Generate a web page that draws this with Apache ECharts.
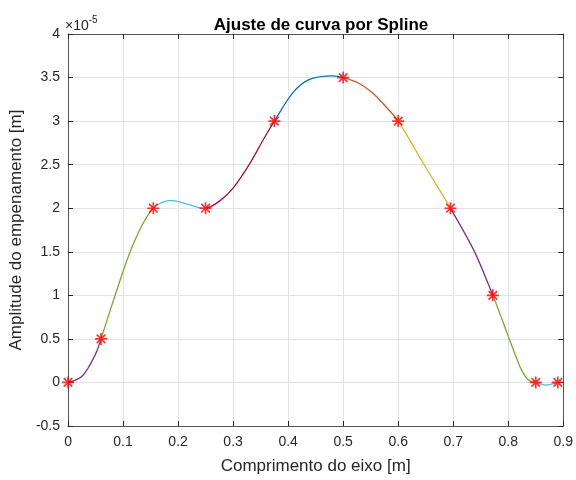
<!DOCTYPE html>
<html lang="pt">
<head>
<meta charset="UTF-8">
<title>Ajuste de curva por Spline</title>
<script src="https://cdn.jsdelivr.net/npm/echarts@6/dist/echarts.min.js"></script>
<style>
  html, body, #main { width: 100%; height: 100%; margin: 0; background: #fff; }
</style>
</head>
<body>
<div id="main"></div>
<script>
// pontos medidos (y em unidades de 1e-5 m)
var knotX = [0, 0.06, 0.155, 0.25, 0.375, 0.5, 0.6, 0.695, 0.772, 0.85, 0.89];
var knotY = [0, 0.5, 2, 2, 3, 3.5, 3, 2, 1, 0, 0];

var curveX = [0, 0.015, 0.027, 0.036, 0.044, 0.053, 0.06, 0.086, 0.111, 0.135, 0.155,
              0.172, 0.188, 0.218, 0.236, 0.25, 0.277, 0.301, 0.332, 0.356, 0.375,
              0.409, 0.439, 0.481, 0.5, 0.527, 0.552, 0.577, 0.6,
              0.648, 0.695, 0.738, 0.772, 0.786, 0.8, 0.812, 0.822, 0.832, 0.84, 0.85,
              0.867, 0.89];
var curveY = [0, 0.03, 0.08, 0.16, 0.25, 0.37, 0.5, 1.01, 1.47, 1.81, 2,
              2.07, 2.09, 2.045, 2.01, 2, 2.09, 2.24, 2.53, 2.8, 3,
              3.33, 3.48, 3.52, 3.5, 3.44, 3.33, 3.17, 3,
              2.49, 2, 1.51, 1, 0.77, 0.53, 0.33, 0.17, 0.06, 0.015, 0,
              -0.03, 0];

// cores de cada trecho (ordem padrão do MATLAB)
var segColors = ['#7E2F8E', '#77AC30', '#4DBEEE', '#A2142F', '#0072BD',
                 '#D95319', '#EDB120', '#7E2F8E', '#77AC30', '#4DBEEE'];

var chart = echarts.init(document.getElementById('main'));
var font = 'Liberation Sans, Arial, sans-serif';
var axisColor = '#262626';

var curve = curveX.map(function (x, i) { return [x, curveY[i]]; });
var stars = knotX.map(function (x, i) { return [x, knotY[i]]; });

// um trecho de cor entre cada par de nós
var pieces = segColors.map(function (c, i) {
  return { gte: knotX[i], lte: knotX[i + 1], color: c };
});

var starPath = 'path://M8.6 0L11.4 0L11.4 20L8.6 20Z M0 8.6L20 8.6L20 11.4L0 11.4Z ' +
  'M1.9 3.9L3.9 1.9L18.1 16.1L16.1 18.1Z M16.1 1.9L18.1 3.9L3.9 18.1L1.9 16.1Z';

function xAxisOf(pos, extra) {
  return Object.assign({
    type: 'value', min: 0, max: 0.9, interval: 0.1, position: pos,
    axisLine: { show: true, onZero: false, lineStyle: { color: '#555', width: 1 } },
    axisTick: { show: true, inside: true, length: 5, lineStyle: { color: axisColor } },
    axisLabel: { show: false },
    splitLine: { show: false }
  }, extra);
}
function yAxisOf(pos, extra) {
  return Object.assign({
    type: 'value', min: -0.5, max: 4, interval: 0.5, position: pos,
    axisLine: { show: true, onZero: false, lineStyle: { color: '#555', width: 1 } },
    axisTick: { show: true, inside: true, length: 5, lineStyle: { color: axisColor } },
    axisLabel: { show: false },
    splitLine: { show: false }
  }, extra);
}
function fmt(v) { return String(Math.round(v * 10) / 10); }

chart.setOption({
  animation: false,
  backgroundColor: '#fff',
  title: {
    text: 'Ajuste de curva por Spline',
    left: 316, top: 12, textAlign: 'center',
    textStyle: { fontFamily: font, fontSize: 17, fontWeight: 'bold', color: '#000' }
  },
  graphic: [{
    type: 'text', left: 65, top: 15,
    style: {
      text: '{a|×10}{b|-5}',
      rich: {
        a: { fontFamily: font, fontSize: 14, fill: axisColor, padding: [6, 0, 0, 0] },
        b: { fontFamily: font, fontSize: 10, fill: axisColor, padding: [0, 0, 6, 0] }
      }
    }
  }],
  grid: { left: 65, right: 9, top: 34, bottom: 50 },
  xAxis: [
    xAxisOf('bottom', {
      name: 'Comprimento do eixo [m]', nameLocation: 'middle', nameGap: 32,
      nameTextStyle: { fontFamily: font, fontSize: 17, color: axisColor },
      axisLabel: { show: true, fontFamily: font, fontSize: 14, color: axisColor, margin: 9, formatter: fmt },
      splitLine: { show: true, lineStyle: { color: '#e3e3e3', width: 1 } }
    }),
    xAxisOf('top', {})
  ],
  yAxis: [
    yAxisOf('left', {
      name: 'Amplitude do empenamento [m]', nameLocation: 'middle', nameGap: 38,
      nameTextStyle: { fontFamily: font, fontSize: 17, color: axisColor },
      axisLabel: { show: true, fontFamily: font, fontSize: 14, color: axisColor, margin: 8, formatter: fmt },
      splitLine: { show: true, lineStyle: { color: '#e3e3e3', width: 1 } }
    }),
    yAxisOf('right', {})
  ],
  visualMap: {
    show: false, type: 'piecewise', dimension: 0, seriesIndex: 0,
    pieces: pieces
  },
  series: [
    {
      type: 'line', data: curve, smooth: 0.3, symbol: 'none',
      lineStyle: { width: 1.3 }, z: 2, silent: true
    },
    {
      type: 'scatter', data: stars, symbol: starPath, symbolSize: 12,
      itemStyle: { color: '#ff0000' }, z: 5, silent: true
    }
  ]
});
window.onresize = chart.resize;
</script>
</body>
</html>
